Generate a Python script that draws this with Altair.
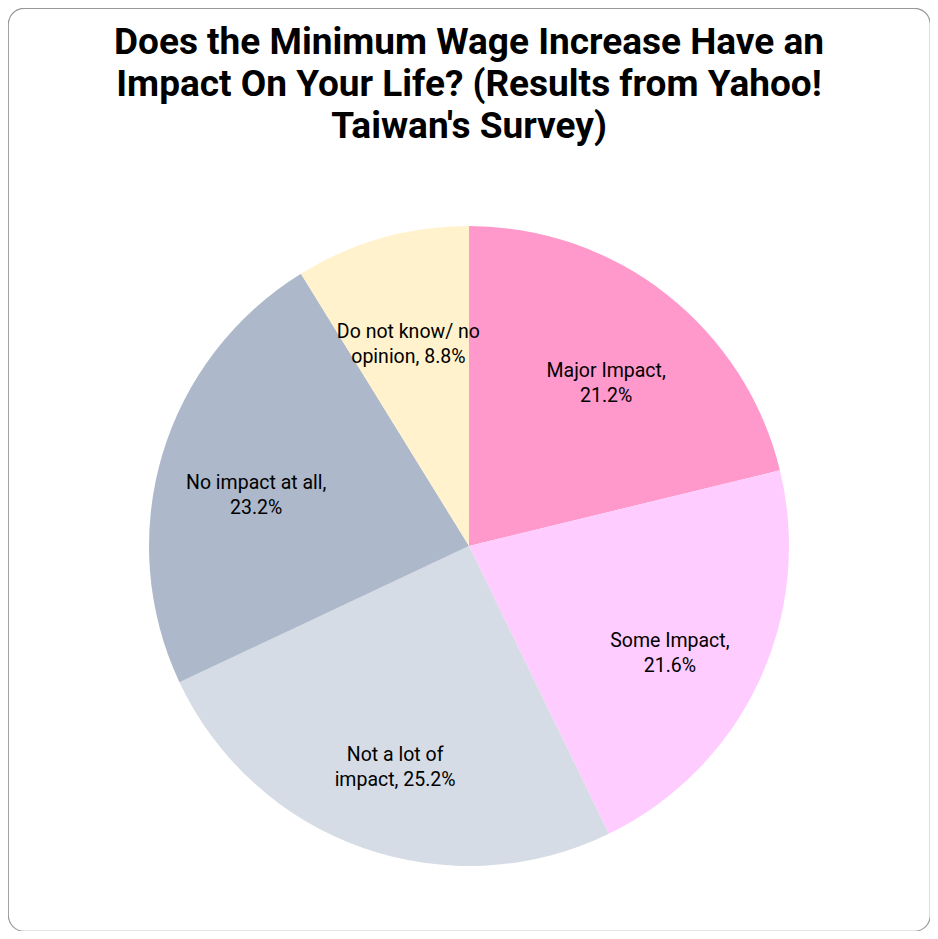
import altair as alt
import pandas as pd

categories = ["Major Impact", "Some Impact", "Not a lot of impact", "No impact at all", "Do not know/ no opinion"]
values = [21.2, 21.6, 25.2, 23.2, 8.8]
label_text = ["Major Impact,\n21.2%", "Some Impact,\n21.6%", "Not a lot of\nimpact, 25.2%",
              "No impact at all,\n23.2%", "Do not know/ no\nopinion, 8.8%"]
colors = ["#FF99CC", "#FFCCFF", "#D6DCE5", "#ADB9CA", "#FFF2CC"]

df = pd.DataFrame({
    "category": categories,
    "value": values,
    "label": label_text,
    "order": list(range(len(categories))),
})

base = alt.Chart(df).encode(
    theta=alt.Theta("value:Q", stack=True),
    order=alt.Order("order:Q"),
)

pie = base.mark_arc(outerRadius=320, stroke=None).encode(
    color=alt.Color("category:N", scale=alt.Scale(domain=categories, range=colors), legend=None),
    x=alt.value(461),
    y=alt.value(538),
)

text = base.mark_text(radius=222, fontSize=19.5, font="Roboto", color="#000000",
                      lineBreak="\n", lineHeight=25, align="center", baseline="middle").encode(
    text="label:N",
    x=alt.value(461),
    y=alt.value(538),
)

chart = alt.layer(pie, text).properties(
    width=922,
    height=923,
    padding=0,
    autosize=alt.AutoSizeParams(type="none"),
    title=alt.TitleParams(
        ["Does the Minimum Wage Increase Have an", "Impact On Your Life? (Results from Yahoo!", "Taiwan's Survey)"],
        fontSize=37, font="Roboto", fontWeight="bold", color="#000000",
        lineHeight=42, anchor="middle", offset=-138,
    ),
).configure_view(
    stroke="#999999", strokeWidth=1.2, cornerRadius=16, fill="white",
)

chart.save("out.html", embed_options={"renderer": "svg", "actions": False})
